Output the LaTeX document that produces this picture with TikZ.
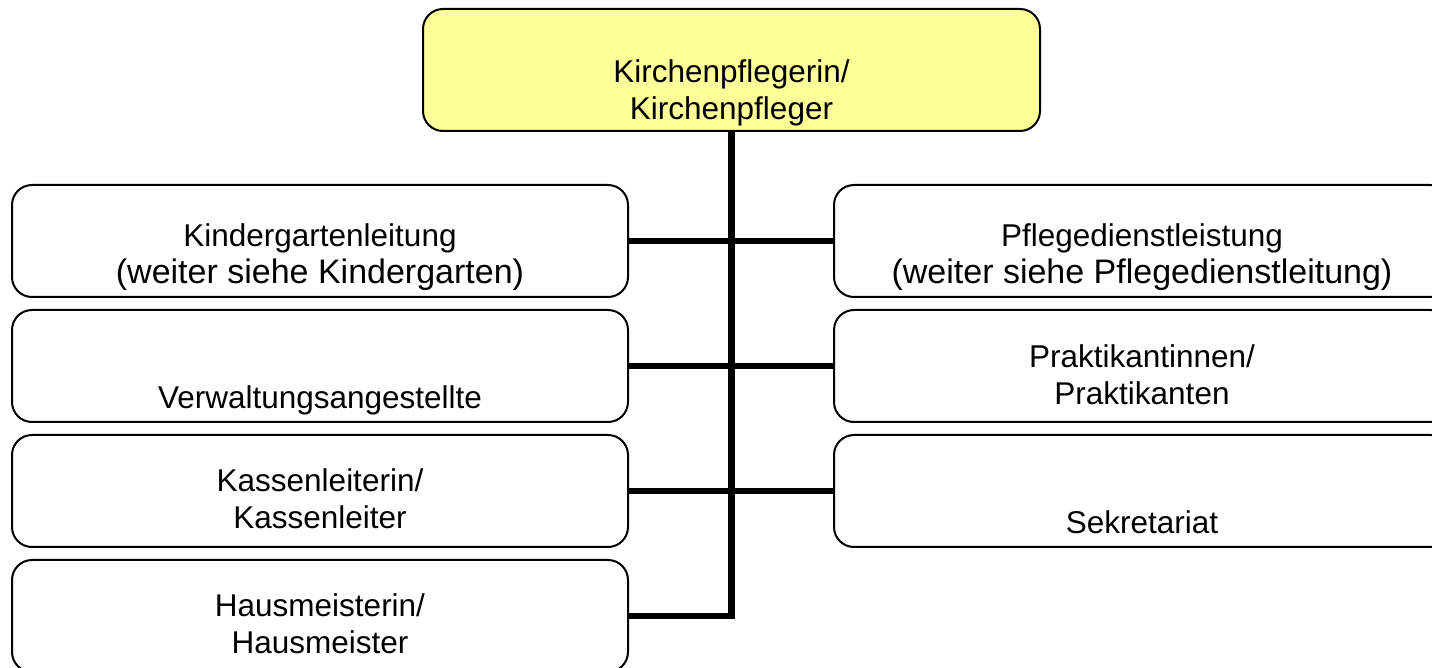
\documentclass[tikz,border=0pt]{standalone}
\usepackage{fontspec}
\setmainfont{Liberation Sans}
\definecolor{kpgelb}{RGB}{255,255,153}
\newcommand{\normschrift}{\fontsize{15.75}{18.5}\selectfont}
\tikzset{
	stelle/.style={draw,line width=1pt,rounded corners=10pt,minimum width=308pt,minimum height=56pt,inner sep=0pt},
	titel/.style={align=center,inner sep=0pt,font=\normschrift},
	gross/.style={align=center,inner sep=0pt,font=\fontsize{17}{18.5}\selectfont},
	linie/.style={line width=3.2pt}
}
\begin{document}
\begin{tikzpicture}[x=0.5pt,y=-0.5pt]
	\useasboundingbox (0,0) rectangle (1432,668);
	% Kaesten
	\node[stelle,fill=kpgelb,minimum width=308.5pt,minimum height=61pt] (kpfl) at (731.5,70) {};
	\node[stelle] (kiga) at (320,241) {};
	\node[stelle] (verw) at (320,366) {};
	\node[stelle] (kasse) at (320,491) {};
	\node[stelle] (haus) at (320,616) {};
	\node[stelle] (pflege) at (1142,241) {};
	\node[stelle] (prakt) at (1142,366) {};
	\node[stelle] (sekr) at (1142,491) {};
	% Texte
	\node[titel] (kpfl-t) at (731.5,93) {Kirchenpflegerin/\\Kirchenpfleger};
	\node[gross] (kiga-t) at (320,257) {{\normschrift Kindergartenleitung}\\(weiter siehe Kindergarten)};
	\node[titel] (verw-t) at (320,400) {Verwaltungsangestellte};
	\node[titel] (kasse-t) at (320,499) {Kassenleiterin/\\Kassenleiter};
	\node[titel] (haus-t) at (320,624) {Hausmeisterin/\\Hausmeister};
	\node[gross] (pflege-t) at (1142,257) {{\normschrift Pflegedienstleistung}\\(weiter siehe Pflegedienstleitung)};
	\node[titel] (prakt-t) at (1142,375) {Praktikantinnen/\\Praktikanten};
	\node[titel] (sekr-t) at (1142,522) {Sekretariat};
	% Linien
	\draw[linie] (kpfl.south) |- (haus.east);
	\foreach \l/\r in {kiga/pflege,verw/prakt,kasse/sekr}
	\draw[linie] (\l.east) -- (\r.west);
\end{tikzpicture}
\end{document}
